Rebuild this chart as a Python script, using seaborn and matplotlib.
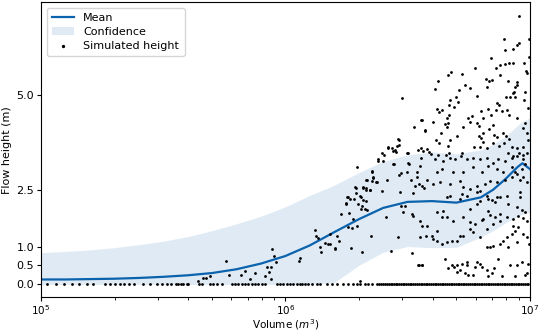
import numpy as np
import pandas as pd
import seaborn as sns
import matplotlib
matplotlib.use("Agg")
import matplotlib.pyplot as plt

# mean curve and confidence band, log10(volume) vs height
grid_logv = [5.0, 5.1, 5.2, 5.3, 5.4, 5.5, 5.6, 5.7, 5.8, 5.9, 6.0, 6.1, 6.2, 6.3, 6.4,
             6.5, 6.6, 6.7, 6.8, 6.85, 6.9, 6.95, 6.97, 7.0]
mean_h = [0.13, 0.13, 0.14, 0.15, 0.17, 0.20, 0.24, 0.30, 0.40, 0.55, 0.75, 1.03, 1.38, 1.72, 2.02,
          2.18, 2.20, 2.16, 2.30, 2.50, 2.78, 3.10, 3.20, 3.05]
upper_h = [0.84, 0.87, 0.91, 0.97, 1.05, 1.14, 1.26, 1.42, 1.60, 1.80, 2.05, 2.35, 2.62, 2.95, 3.25,
           3.42, 3.50, 3.45, 3.55, 3.70, 3.90, 4.20, 4.30, 4.40]
lower_h = [0.0, 0.0, 0.0, 0.0, 0.0, 0.0, 0.0, 0.0, 0.0, 0.0, 0.0, 0.0, 0.05, 0.50, 0.85,
           1.00, 0.97, 0.98, 1.25, 1.42, 1.62, 1.80, 1.85, 1.90]

# simulated flow heights (log10 volume, height)
sim_logv = [
    5.642, 5.663, 5.675, 5.691, 5.757, 5.769, 5.818, 5.834, 5.855, 5.875, 5.916, 5.924, 5.933, 5.941,
    5.941, 5.945, 5.953, 5.961, 6.055, 6.059, 6.121, 6.125, 6.133, 6.141, 6.145, 6.162, 6.174, 6.182,
    6.202, 6.211, 6.219, 6.227, 6.247, 6.256, 6.264, 6.260, 6.276, 6.256, 6.272, 6.292, 6.268, 6.284,
    6.288, 6.292, 6.305, 6.317, 6.317, 6.329, 6.313, 6.329, 6.333, 6.325, 6.346, 6.354, 6.358, 6.350,
    6.374, 6.378, 6.182, 6.202, 6.305, 6.411, 6.460, 6.472, 6.489, 6.517, 6.558, 6.579, 6.550, 6.575,
    6.431, 6.517, 6.558, 6.546, 6.252, 6.280, 6.309, 6.247, 6.297, 6.329, 6.313, 6.309,
    6.354, 6.358, 6.333, 6.378, 6.399, 6.395, 6.403, 6.419, 6.436, 6.440, 6.452, 6.460, 6.464, 6.444,
    6.497, 6.501, 6.505, 6.526, 6.554, 6.571, 6.542, 6.554, 6.562, 6.579, 6.587, 6.554, 6.464, 6.472,
    6.415, 6.513, 6.538, 6.530, 6.546, 6.566, 6.558, 6.329, 6.317, 6.288, 6.370, 6.346, 6.395, 6.468,
    6.521, 6.476,
    6.955, 6.894, 6.947, 6.955, 6.996, 6.898, 6.931, 6.996, 6.840, 6.877, 6.898, 6.914, 6.931, 6.975,
    6.984, 6.988, 6.861, 6.775, 6.677, 6.665, 6.624, 6.611, 6.722, 6.734, 6.755, 6.710, 6.783, 6.820,
    6.832, 6.845, 6.824, 6.877, 6.910, 6.947, 6.947, 6.939, 6.935, 6.931, 6.918, 6.939, 6.980, 6.975,
    6.902, 6.673, 6.669, 6.697, 6.706, 6.689, 6.640, 6.865, 6.873, 6.861, 6.885, 6.906, 6.914, 6.828,
    6.840, 6.808, 6.800, 6.746, 6.763, 6.755, 6.669, 6.661, 6.620, 6.628, 6.558, 6.571, 6.603, 6.652,
    6.665, 6.661, 6.636, 6.616, 6.628, 6.701, 6.673, 6.665, 6.726, 6.783, 6.791, 6.832, 6.849, 6.808,
    6.853, 6.865, 6.791, 6.800, 6.808, 6.947, 6.980, 6.971, 6.992, 6.988, 6.992, 6.419, 6.464, 6.456,
    6.448, 6.501, 6.595, 6.624, 6.656, 6.669, 6.722, 6.771, 6.796, 6.824, 6.849, 6.873, 6.894, 6.890,
    6.902, 6.914, 6.926, 6.947, 6.955, 6.971, 6.910, 6.931, 6.971,
    6.611, 6.644, 6.673, 6.693, 6.718, 6.742, 6.767, 6.796, 6.824, 6.849, 6.869, 6.898, 6.926, 6.947,
    6.971, 6.988, 6.620, 6.640, 6.685, 6.726, 6.767, 6.804, 6.828, 6.865, 6.890, 6.926, 6.939, 6.967,
    6.980, 6.603, 6.632, 6.673, 6.714, 6.726, 6.755, 6.783, 6.796, 6.816, 6.836, 6.865, 6.898, 6.926,
    6.947, 6.959, 6.971, 6.988, 6.673, 6.722, 6.742, 6.783, 6.824, 6.865, 6.906, 6.959,
    6.661, 6.714, 6.783, 6.796, 6.828, 6.845, 6.857, 6.877, 6.910, 6.947, 6.959, 6.967, 6.980, 6.755,
    6.620, 6.644, 6.640, 6.685, 6.726, 6.755, 6.804, 6.828, 6.836, 6.857, 6.877, 6.906, 6.931, 6.951,
    6.971, 6.988, 6.603, 6.620, 6.640, 6.661, 6.681, 6.701, 6.726, 6.767, 6.796, 6.824, 6.836, 6.849,
    6.877, 6.890, 6.906, 6.926, 6.939, 6.951, 6.971, 6.988, 6.996, 6.910, 6.947,
    6.652, 6.681, 6.689, 6.701, 6.722, 6.742, 6.734, 6.746, 6.767, 6.783, 6.796, 6.804, 6.824, 6.845,
    6.828, 6.869, 6.885, 6.918, 6.947, 6.967, 6.980, 6.988, 6.939, 6.992,
    6.542, 6.558, 6.665, 6.701, 6.714, 6.742, 6.775, 6.853,
    6.440, 6.497, 6.538, 6.550, 6.579, 6.354, 6.480, 6.521, 6.550, 6.599, 6.620, 6.661, 6.714, 6.755,
    6.775, 6.808, 6.824, 6.849, 6.877, 6.931,
]
sim_height = [
    0.10, 0.18, 0.16, 0.21, 0.63, 0.24, 0.24, 0.36, 0.13, 0.29, 0.21, 0.45, 0.34, 0.13,
    0.47, 0.94, 0.76, 0.58, 0.63, 0.71, 1.44, 1.28, 1.23, 1.00, 0.86, 1.10, 1.07, 1.07,
    0.94, 1.28, 1.15, 1.86, 2.15, 2.30, 2.25, 1.88, 1.73, 1.52, 1.49, 1.54, 0.97, 2.57,
    2.41, 3.09, 2.33, 2.23, 2.57, 2.54, 0.86, 2.75, 1.96, 2.00, 2.49, 3.00, 2.83, 1.28,
    2.70, 3.30, 1.33, 0.97, 0.08, 1.78, 1.26, 2.07, 2.07, 1.86, 1.54, 1.54, 1.26, 1.28,
    0.89, 0.84, 0.52, 0.52, 2.30, 2.25, 2.30, 2.12, 2.12, 2.20, 2.07, 2.00,
    2.98, 2.80, 2.75, 3.27, 3.27, 3.48, 3.43, 3.61, 3.59, 3.53, 3.51, 3.85, 3.69, 3.19,
    3.46, 3.22, 3.19, 4.16, 4.35, 4.06, 3.56, 3.61, 3.53, 3.58, 3.51, 3.35, 2.90, 2.93,
    2.75, 2.77, 2.83, 2.60, 2.64, 2.54, 2.59, 2.50, 2.55, 2.55, 2.70, 2.49, 2.46, 2.43,
    2.41, 4.92,
    7.09, 6.47, 6.33, 6.39, 6.49, 6.18, 6.23, 6.00, 5.97, 5.79, 5.81, 5.86, 5.84, 5.84,
    5.63, 5.58, 5.71, 5.71, 5.60, 5.52, 5.37, 5.16, 5.55, 5.26, 5.18, 5.13, 4.97, 5.42,
    5.37, 5.39, 5.21, 5.52, 5.37, 5.34, 5.26, 5.21, 5.08, 5.05, 4.95, 4.95, 5.08, 4.87,
    4.95, 4.87, 4.74, 4.95, 4.82, 4.69, 4.61, 4.79, 4.74, 4.60, 4.58, 4.60, 4.48, 4.63,
    4.48, 4.40, 4.58, 4.40, 4.45, 4.29, 4.48, 4.40, 4.63, 4.55, 4.35, 4.08, 4.29, 4.24,
    4.27, 4.16, 4.00, 3.82, 3.74, 3.93, 3.82, 3.66, 4.16, 4.27, 4.19, 4.11, 4.21, 4.00,
    3.95, 3.90, 3.93, 3.87, 3.77, 4.40, 4.27, 4.14, 4.66, 4.00, 3.82, 3.64, 3.82, 3.66,
    3.56, 3.46, 3.45, 3.43, 3.43, 3.46, 3.48, 3.64, 3.64, 3.59, 3.74, 3.66, 3.74, 4.00,
    3.93, 3.85, 3.64, 3.61, 3.48, 3.64, 3.46, 3.38, 3.43,
    3.30, 3.25, 3.35, 3.30, 3.38, 3.30, 3.35, 3.30, 3.35, 3.22, 3.30, 3.25, 3.35, 3.38,
    3.30, 3.48, 2.98, 3.04, 2.96, 2.98, 3.09, 2.98, 3.12, 3.04, 2.98, 3.09, 2.98, 3.04,
    3.17, 2.64, 2.70, 2.64, 2.72, 2.57, 2.51, 2.59, 2.46, 2.64, 2.72, 2.70, 2.77, 2.83,
    2.91, 2.77, 2.83, 2.70, 2.33, 2.38, 2.33, 2.43, 2.33, 2.30, 2.33, 2.43,
    2.30, 2.25, 2.12, 2.20, 2.25, 2.23, 2.17, 2.30, 2.12, 2.04, 2.30, 1.96, 1.91, 1.99,
    1.91, 1.94, 1.78, 1.68, 1.78, 1.65, 1.70, 1.94, 1.83, 1.78, 1.68, 1.78, 1.73, 1.81,
    1.75, 1.68, 1.20, 1.15, 1.07, 1.12, 1.15, 1.15, 1.28, 1.39, 1.26, 0.99, 1.00, 1.02,
    1.07, 1.15, 1.26, 1.34, 1.41, 1.52, 1.34, 1.26, 1.07, 0.99, 1.12,
    0.68, 0.50, 0.47, 0.34, 0.55, 0.50, 0.29, 0.24, 0.24, 0.60, 0.55, 0.47, 0.37, 0.29,
    0.21, 0.68, 0.21, 0.50, 0.50, 0.60, 0.24, 0.29, 0.21, 0.55,
    0.52, 0.50, 0.42, 0.50, 0.37, 0.60, 0.47, 0.42,
    3.17, 2.98, 2.96, 3.12, 2.77, 2.72, 1.91, 1.81, 1.68, 1.28, 1.41, 1.78, 1.28, 1.47,
    1.60, 1.73, 1.47, 1.60, 1.86, 1.54,
]

# simulations that gave zero height
zero_logv = [
    5.025, 5.061, 5.094, 5.127, 5.155, 5.188, 5.213, 5.262, 5.282, 5.303, 5.323, 5.339, 5.360, 5.380,
    5.417, 5.446, 5.474, 5.495, 5.515, 5.532, 5.552, 5.560, 5.573, 5.581, 5.597, 5.601, 5.646, 5.659,
    5.691, 5.703, 5.720, 5.740, 5.781, 5.793, 5.806, 5.822, 5.834, 5.847, 5.863, 5.875, 5.888, 5.904,
    5.916, 5.965, 5.978, 5.990, 6.006, 6.018, 6.031, 6.047, 6.059, 6.067, 6.080, 6.092, 6.108, 6.129,
    6.141, 6.170, 6.190, 6.211, 6.235, 6.256, 6.276, 6.292, 6.305, 6.325, 6.337, 6.354, 6.374,
    6.385, 6.392, 6.401, 6.408, 6.415, 6.424, 6.431, 6.437, 6.445, 6.452, 6.458, 6.466, 6.474, 6.481,
    6.487, 6.495, 6.503, 6.509, 6.516, 6.524, 6.531, 6.538, 6.545, 6.553, 6.559, 6.567, 6.574, 6.581,
    6.589, 6.596, 6.603, 6.611, 6.618, 6.624, 6.632, 6.639, 6.647, 6.654, 6.661, 6.668, 6.676, 6.683,
    6.690, 6.697, 6.705, 6.712, 6.719, 6.726, 6.733, 6.741, 6.748, 6.755, 6.762, 6.770, 6.777, 6.784,
    6.791, 6.799, 6.806, 6.813, 6.820, 6.828, 6.835, 6.842, 6.849, 6.857, 6.864, 6.871, 6.878, 6.886,
    6.893, 6.900, 6.907, 6.915, 6.922, 6.929, 6.936, 6.944, 6.951, 6.958, 6.965, 6.973, 6.980, 6.987,
    6.994,
]

y_ticks = [0.0, 0.5, 1.0, 2.5, 5.0]

blue = "#0b62ad"

curve = pd.DataFrame({"volume": 10 ** np.array(grid_logv), "mean": mean_h,
                      "upper": upper_h, "lower": lower_h})
sims = pd.DataFrame({
    "volume": 10 ** np.array(sim_logv + zero_logv),
    "height": sim_height + [0.0] * len(zero_logv),
})

plt.rcParams["font.family"] = ["DejaVu Sans"]
plt.rcParams["font.size"] = 8
plt.rcParams["mathtext.default"] = "it"

fig = plt.figure(figsize=(5.4, 3.34), dpi=100)
ax = fig.add_axes([0.076, 0.11, 0.905, 0.884])

ax.fill_between(curve["volume"], curve["lower"], curve["upper"], color=blue, alpha=0.13,
                linewidth=0, label="Confidence")
sns.lineplot(data=curve, x="volume", y="mean", ax=ax, color=blue, linewidth=1.6, label="Mean")
sns.scatterplot(data=sims, x="volume", y="height", ax=ax, color="black", s=4, linewidth=0,
                label="Simulated height", zorder=3)

ax.set_xscale("log")
ax.set_xlim(1e5, 1e7)
ax.set_ylim(-0.34, 7.46)
ax.set_yticks(y_ticks)
ax.set_yticklabels([f"{v:.1f}" for v in y_ticks])
ax.set_xlabel("Volume ($m^3$)", fontsize=7.5, labelpad=0)
ax.set_ylabel("Flow height (m)", fontsize=8, labelpad=3)
ax.tick_params(axis="y", labelsize=8, length=3, pad=2)
ax.tick_params(axis="x", labelsize=7.5, length=3, pad=1.5)
ax.tick_params(which="minor", length=1.8)

handles, labels = ax.get_legend_handles_labels()
order = [labels.index("Mean"), labels.index("Confidence"), labels.index("Simulated height")]
ax.legend([handles[i] for i in order], [labels[i] for i in order], loc="upper left",
          fontsize=8, markerscale=1.2, borderpad=0.5, handlelength=2.0, labelspacing=0.35)

fig.savefig("out.png", dpi=100)
